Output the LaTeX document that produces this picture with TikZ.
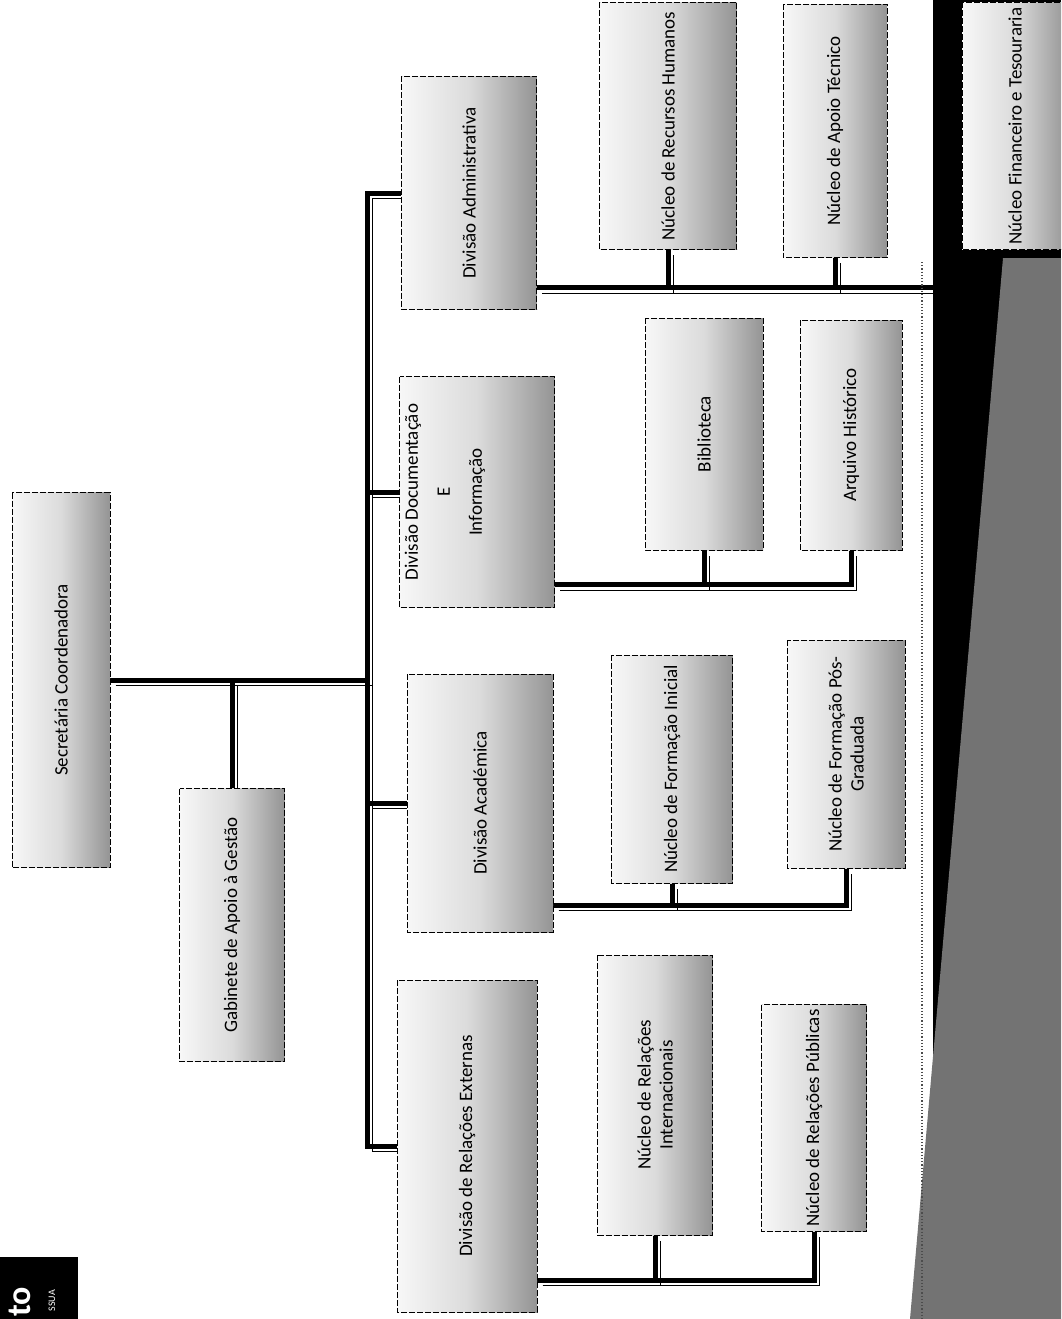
\documentclass[tikz,border=0pt]{standalone}
\usepackage{fontspec}
\setmainfont{Carlito}
\usepackage{tikz}
\usetikzlibrary{positioning,calc,backgrounds}
\tikzset{
  org-box/.style={draw=black,line width=0.9pt,dash pattern=on 6pt off 2pt,
    rotate=90,align=center,inner sep=0pt,
    left color=black!3,right color=black!42,middle color=black!14},
  org-text/.style={rotate=90,align=center,inner sep=0pt},
  org-link/.style={line width=5pt,draw=black,
    preaction={draw=black,line width=1.2pt,transform canvas={shift={(5.2,5.2)}}}},
  band-dark/.style={fill=black},
  band-grey/.style={fill=black!55},
}

\begin{document}
\begin{tikzpicture}[x=1pt,y=-1pt,font=\fontsize{19}{22}\selectfont]
  \clip (0,0) rectangle (1061,1319);
  % dark band on the right
  \fill[band-dark] (933,0) rectangle (1061,1319);
  \fill[band-grey] (1003,258) -- (1061,258) -- (1061,1319) -- (910,1319) -- cycle;
  \draw[dotted,line width=1.2pt,black!70] (922,262) -- (922,1319);
  % logo
  \fill[band-dark] (0,1257) rectangle (78,1319);
  \node[org-text,text=white,anchor=base east,font=\bfseries\fontsize{34}{34}\selectfont] (logo) at (30,1287) {to};
  \node[org-text,text=white,anchor=base east,font=\fontsize{10}{10}\selectfont] (logoSub) at (55,1290) {SSUA};

  % top level
  \node[org-box,minimum width=375pt,minimum height=98pt] (sec) at (61,680) {Secretária Coordenadora};
  \node[org-box,minimum width=273pt,minimum height=105pt] (gab) at (232,925) {Gabinete de Apoio à Gestão};
  \coordinate (spine) at (367,0);

  % divisions
  \node[org-box,minimum width=233pt,minimum height=135pt] (divAdm) at (469,193) {Divisão Administrativa};
  \node[org-box,minimum width=231pt,minimum height=155pt] (divDoc) at (477,492) {};
  \node[org-text] (divDocTxt) at (445,492) {Divisão Documentação\\[10pt]E\\[10pt]Informação};
  \node[org-box,minimum width=258pt,minimum height=146pt] (divAca) at (480,803) {Divisão Académica};
  \node[org-box,minimum width=332pt,minimum height=140pt] (divRel) at (467,1146) {Divisão de Relações Externas};

  % nucleos
  \node[org-box,minimum width=247pt,minimum height=137pt] (nRH) at (668,126) {Núcleo de Recursos Humanos};
  \node[org-box,minimum width=253pt,minimum height=104pt] (nAT) at (835,131) {Núcleo de Apoio Técnico};
  \node[org-box,minimum width=247pt,minimum height=106pt] (nFin) at (1015,126) {Núcleo Financeiro e Tesouraria};
  \node[org-box,minimum width=232pt,minimum height=118pt] (bib) at (704,434) {Biblioteca};
  \node[org-box,minimum width=230pt,minimum height=102pt] (arq) at (851,435) {Arquivo Histórico};
  \node[org-box,minimum width=228pt,minimum height=121pt] (nFI) at (672,769) {Núcleo de Formação Inicial};
  \node[org-box,minimum width=228pt,minimum height=118pt] (nFP) at (846,754) {Núcleo de Formação Pós-\\Graduada};
  \node[org-box,minimum width=280pt,minimum height=115pt] (nRI) at (655,1095) {Núcleo de Relações\\Internacionais};
  \node[org-box,minimum width=227pt,minimum height=105pt] (nRP) at (814,1118) {Núcleo de Relações Públicas};

  \begin{scope}[on background layer]
    % spine and top level
    \draw[org-link] (divAdm.north) -- (divAdm.north -| spine) -- (divRel.north -| spine) -- (divRel.north);
    \draw[org-link] (divDoc.north) -- (divDoc.north -| spine);
    \draw[org-link] (divAca.north) -- (divAca.north -| spine);
    \draw[org-link] (sec.south) -- (sec.south -| spine);
    \draw[org-link] (gab.east) -- (gab.east |- sec.south);
    % buses
    \coordinate (admBus) at ($(divAdm.south west)+(0,-22)$);
    \coordinate (docBus) at ($(divDoc.south west)+(0,-23)$);
    \coordinate (acaBus) at ($(divAca.south west)+(0,-27)$);
    \coordinate (relBus) at ($(divRel.south west)+(0,-32)$);
    \draw[org-link] (admBus) -| (nRH.west);
    \draw[org-link] (admBus) -| (nAT.west);
    \draw[org-link] (admBus) -| (nFin.west);
    \draw[org-link] (docBus) -| (bib.west);
    \draw[org-link] (docBus) -| (arq.west);
    \draw[org-link] (acaBus) -| (nFI.west);
    \draw[org-link] (acaBus) -| (nFP.west);
    \draw[org-link] (relBus) -| (nRI.west);
    \draw[org-link] (relBus) -| (nRP.west);
  \end{scope}
\end{tikzpicture}
\end{document}
